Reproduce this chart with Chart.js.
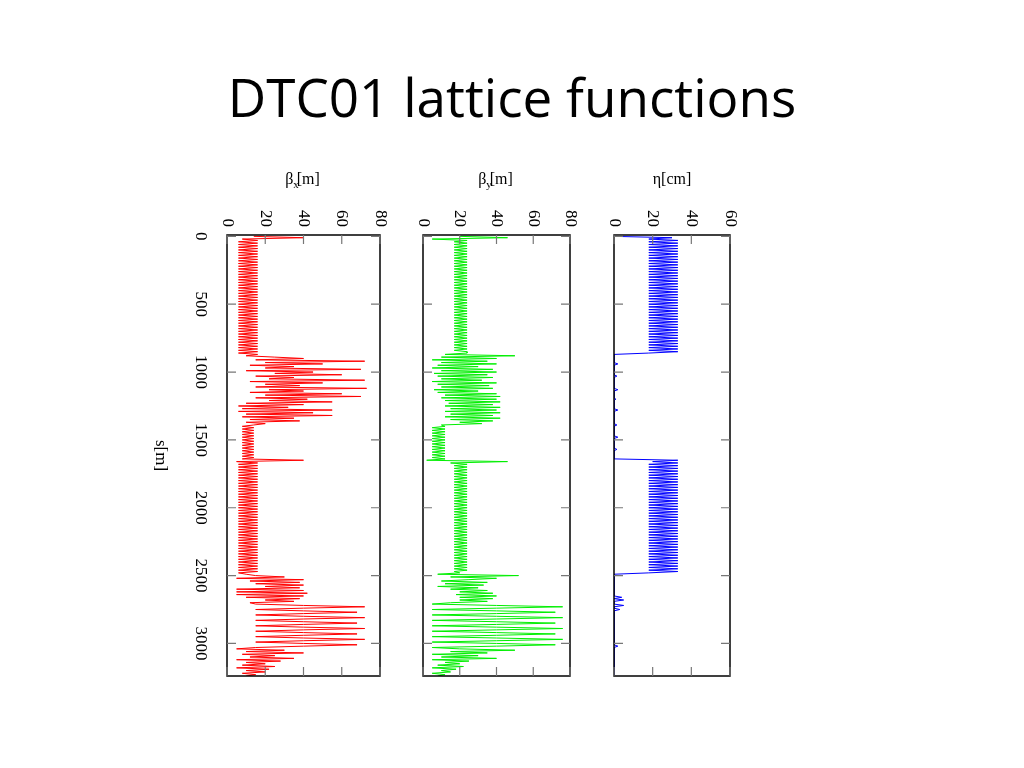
<!DOCTYPE html>
<html>
<head>
<meta charset="utf-8">
<script src="https://cdn.jsdelivr.net/npm/chart.js@4"></script>
<style>
  body { margin: 0; width: 1024px; height: 768px; background: #fff; position: relative; overflow: hidden; }
  #title { position: absolute; left: 0; top: 60px; width: 1024px; text-align: center;
           font-family: "Open Sans", sans-serif; font-size: 53px; color: #000; }
  .panel { position: absolute; top: 160px; height: 530px; }
  .panel canvas { width: 100% !important; height: 100% !important; }
</style>
</head>
<body>
<div id="title">DTC01 lattice functions</div>
<div class="panel" style="left:140px;width:260px"><canvas id="c1"></canvas></div>
<div class="panel" style="left:400px;width:190px"><canvas id="c2"></canvas></div>
<div class="panel" style="left:590px;width:160px"><canvas id="c3"></canvas></div>
<script>
// s positions (m), every 10 m from 0 to 3250
const sPos = Array.from({ length: 326 }, (_, i) => i * 10);

// beta x [m]
const betaX = [
  14, 40, 8,
  16,6,16,6,16,6,16,6,16,6,16,6,16,6,16,6,16,6,16,6,
  16,6,16,6,16,6,16,6,16,6,16,6,16,6,16,6,16,6,16,6,
  16,6,16,6,16,6,16,6,16,6,16,6,16,6,16,6,16,6,16,6,
  16,6,16,6,16,6,16,6,16,6,16,6,16,6,16,6,16,6,16,6,
  16,6,16,6,16,
  10,25,40,15,72,20,50,12,35,20, 70,10,45,25,60,15,35,22,72,12,
  50,20,38,15,73,22,40,12,60,20, 70,15,42,22,55,10,40,6,32,8,
  55,6,45,10,55,8,35,12,38,10, 20,
  14,8,14,8,14,8,14,8,14,8,14,8,14,8,14,8,14,8,14,8,14,8,14,8,14,8,
  40, 5,
  16,6,16,6,16,6,16,6,16,6,16,6,16,6,16,6,16,6,16,6,
  16,6,16,6,16,6,16,6,16,6,16,6,16,6,16,6,16,6,16,6,
  16,6,16,6,16,6,16,6,16,6,16,6,16,6,16,6,16,6,16,6,
  16,6,16,6,16,6,16,6,16,6,16,6,16,6,16,6,16,6,16,6,
  16,6,
  10,
  15,30,5,40,12,38,15,40,20,38,5,40,5,42,5,40,10,38,20,35,12,
  15,40,72,40,15,40,68,40, 15,40,72,40,15,40,68,40,
  15,40,72,40,15,40,68,40, 15,40,72,40,15,40,68,40, 15,
  5,30,10,40,8,25,12,35,5,28,10,20,8,25,5,22,10,20,8,15,10,12
];

// beta y [m]
const betaY = [
  20, 46, 5,
  24,17,24,17,24,17,24,17,24,17,24,17,24,17,24,17,24,17,24,17,
  24,17,24,17,24,17,24,17,24,17,24,17,24,17,24,17,24,17,24,17,
  24,17,24,17,24,17,24,17,24,17,24,17,24,17,24,17,24,17,24,17,
  24,17,24,17,24,17,24,17,24,17,24,17,24,17,24,17,24,17,24,17,
  24,17,24,
  24,12,50,10,40,5,35,10,40,8, 30,5,38,10,40,6,35,8,38,10,
  32,5,40,8,36,10,38,6,30,8, 40,12,42,10,40,12,42,14,38,12,
  42,15,40,12,42,15,38,12,42,15, 38,20,32,10,
  12,5,12,5,12,5,12,5,12,5,12,5,12,5,12,5,12,5,12,5,12,5,12,5,12,
  2, 46, 15,
  24,17,24,17,24,17,24,17,24,17,24,17,24,17,24,17,24,17,24,17,
  24,17,24,17,24,17,24,17,24,17,24,17,24,17,24,17,24,17,24,17,
  24,17,24,17,24,17,24,17,24,17,24,17,24,17,24,17,24,17,24,17,
  24,17,24,17,24,17,24,17,24,17,24,17,24,17,24,17,24,17,24,17,
  20,8,52,15,40,25,10,35,12,33, 8,30,15,35,20,38,18,40,20,38, 20,35,15,
  5,40,76,40,5,40,72,40, 5,40,76,40,5,40,72,40,
  5,40,76,40,5,40,72,40, 5,40,76,40,5,40,72,40, 5,
  20,50,15,35,5,30,10,40,5,25,12,20,8,22,5,18,10,15,5,12,8,10
];

// eta [cm]
const eta = [
  0, 30, 18,
  33,18,33,18,33,18,33,18,33,18,33,18,33,18,33,18,33,18,33,18,
  33,18,33,18,33,18,33,18,33,18,33,18,33,18,33,18,33,18,33,18,
  33,18,33,18,33,18,33,18,33,18,33,18,33,18,33,18,33,18,33,18,
  33,18,33,18,33,18,33,18,33,18,33,18,33,18,33,18,33,18,33,18,
  33,18,33,18,
  0,
  0,0,0,0,0,0,2,0,0,0, 0,0,0,0,0,1.5,0,0,0,0, 0,0,0,0,0,2,0,0,0,0,
  0,0,1,0,0,0,0,0,0,0, 2,0,0,0,0,0,0,0,0,0, 0,1.5,0,0,0,0,0,0,0,0,
  2,0,0,0,0,0,0,0,0,1.5, 0,0,0,0,0,0,0,
  33, 20,
  33,18,33,18,33,18,33,18,33,18,33,18,33,18,33,18,33,18,33,18,
  33,18,33,18,33,18,33,18,33,18,33,18,33,18,33,18,33,18,33,18,
  33,18,33,18,33,18,33,18,33,18,33,18,33,18,33,18,33,18,33,18,
  33,18,33,18,33,18,33,18,33,18,33,18,33,18,33,18,33,18,33,18,
  33,18,
  0,
  0,0,0,0,0,0,0,0,0,0, 0,0,0,0,0,0,4,0,5,0, 0,0,5,0,0,3,0,0,0,0,
  0,0,0,0,0,0,0,0,0,0, 0,0,0,0,0,0,0,0,0,0, 0,0,2,0,0,0,0,0,0,0,
  0,0,0,0,0,0,0,0,0,0, 0,0,0,0,0,0
];

const sTicks = [0, 500, 1000, 1500, 2000, 2500, 3000];
const SERIF = '"Liberation Serif", "DejaVu Serif", serif';

// draws frame, inward ticks, rotated tick labels and titles
const framePlugin = {
  id: 'frame',
  afterDraw(chart, args, o) {
    const { ctx, chartArea: a, scales: { x, y } } = chart;
    ctx.save();
    ctx.strokeStyle = '#000';
    ctx.lineWidth = 1.5;
    ctx.strokeRect(a.left, a.top, a.right - a.left, a.bottom - a.top);
    ctx.strokeStyle = '#777';
    ctx.lineWidth = 1.2;
    ctx.beginPath();
    sTicks.forEach(s => {
      const py = y.getPixelForValue(s);
      ctx.moveTo(a.left, py); ctx.lineTo(a.left + 9, py);
      ctx.moveTo(a.right, py); ctx.lineTo(a.right - 9, py);
    });
    o.xTicks.forEach(v => {
      const px = x.getPixelForValue(v);
      ctx.moveTo(px, a.top); ctx.lineTo(px, a.top + 9);
      ctx.moveTo(px, a.bottom); ctx.lineTo(px, a.bottom - 9);
    });
    ctx.stroke();
    ctx.fillStyle = '#000';
    ctx.font = '17px ' + SERIF;
    ctx.textBaseline = 'middle';
    o.xTicks.forEach(v => {
      const px = x.getPixelForValue(v);
      ctx.save();
      ctx.translate(px, a.top - 8);
      ctx.rotate(Math.PI / 2);
      ctx.textAlign = 'right';
      ctx.fillText(String(v), 0, 0);
      ctx.restore();
    });
    if (o.showS) {
      sTicks.forEach(s => {
        const py = y.getPixelForValue(s);
        ctx.save();
        ctx.translate(a.left - 27, py);
        ctx.rotate(Math.PI / 2);
        ctx.textAlign = 'center';
        ctx.fillText(String(s), 0, 0);
        ctx.restore();
      });
      ctx.save();
      ctx.translate(a.left - 67, (a.top + a.bottom) / 2);
      ctx.rotate(Math.PI / 2);
      ctx.textAlign = 'center';
      ctx.fillText('s[m]', 0, 0);
      ctx.restore();
    }
    // title with optional subscript
    const cx = (a.left + a.right) / 2;
    ctx.font = '16px ' + SERIF;
    const wMain = ctx.measureText(o.title[0]).width;
    const wEnd = ctx.measureText(o.title[2]).width;
    ctx.font = '11px ' + SERIF;
    const wSub = o.title[1] ? ctx.measureText(o.title[1]).width : 0;
    let tx = cx - (wMain + wSub + wEnd) / 2;
    ctx.textAlign = 'left';
    ctx.font = '16px ' + SERIF;
    ctx.fillText(o.title[0], tx, 20);
    tx += wMain;
    if (o.title[1]) {
      ctx.font = '11px ' + SERIF;
      ctx.fillText(o.title[1], tx, 25);
      tx += wSub - 2;
    }
    ctx.font = '16px ' + SERIF;
    ctx.fillText(o.title[2], tx, 20);
    ctx.restore();
  }
};

function makePanel(id, values, color, xMax, xTicks, pad, title, showS) {
  new Chart(document.getElementById(id), {
    type: 'line',
    data: {
      datasets: [{
        data: sPos.map((s, i) => ({ x: values[i], y: s })),
        borderColor: color,
        borderWidth: 1,
        pointRadius: 0,
        tension: 0
      }]
    },
    options: {
      responsive: true,
      maintainAspectRatio: false,
      animation: false,
      indexAxis: 'y',
      layout: { padding: pad },
      plugins: { legend: { display: false }, tooltip: { enabled: false },
                 frame: { xTicks, title, showS } },
      scales: {
        x: { type: 'linear', min: 0, max: xMax, display: false },
        y: { type: 'linear', min: -10, max: 3240, reverse: true, display: false }
      }
    },
    plugins: [framePlugin]
  });
}

makePanel('c1', betaX, '#ff0000', 80, [0, 20, 40, 60, 80],
  { left: 87, right: 20, top: 75, bottom: 14 }, ['β', 'x', '[m]'], true);
makePanel('c2', betaY, '#00ee00', 80, [0, 20, 40, 60, 80],
  { left: 23, right: 20, top: 75, bottom: 14 }, ['β', 'y', '[m]'], false);
makePanel('c3', eta, '#0000ff', 60, [0, 20, 40, 60],
  { left: 24, right: 20, top: 75, bottom: 14 }, ['η', '', '[cm]'], false);
</script>
</body>
</html>
